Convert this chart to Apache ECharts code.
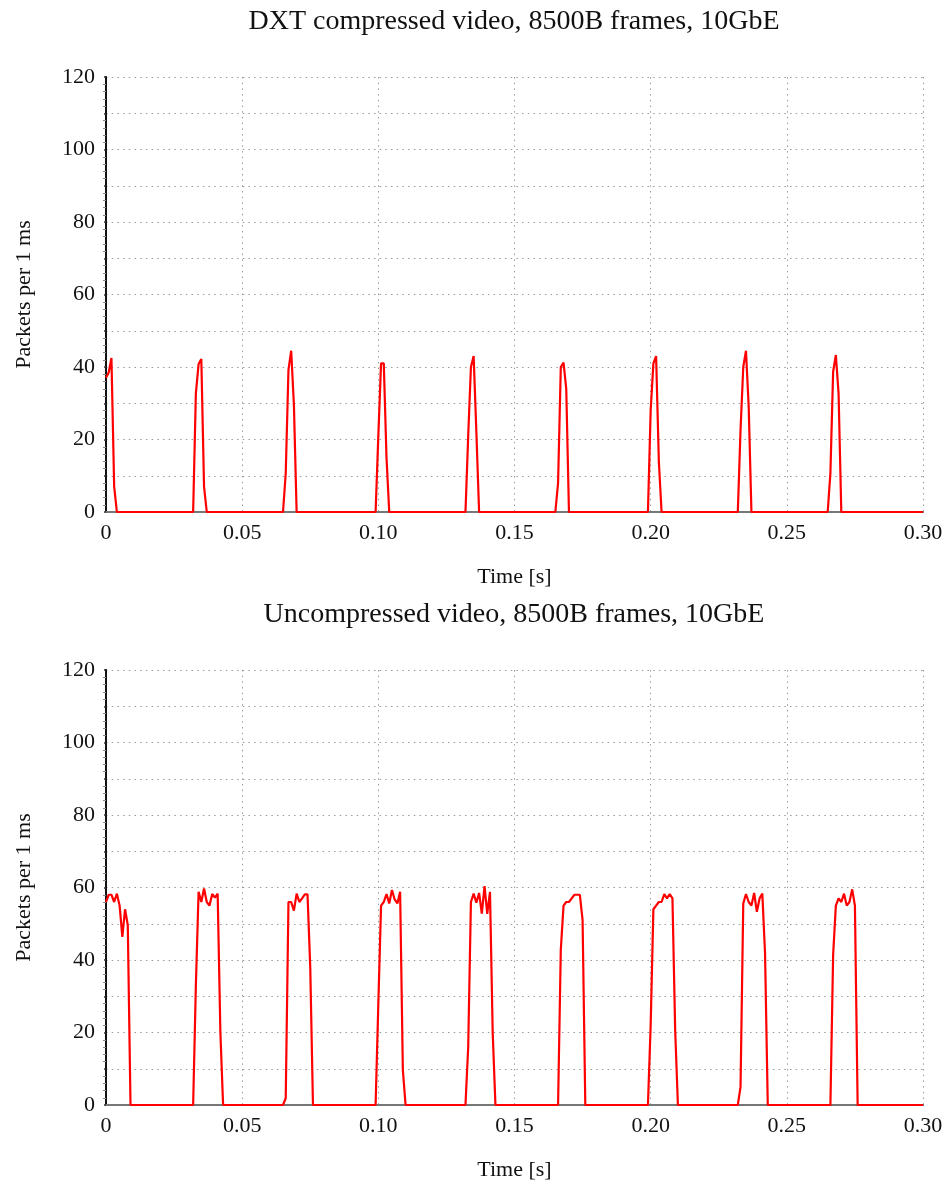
<!DOCTYPE html>
<html>
<head>
<meta charset="utf-8">
<script src="https://cdn.jsdelivr.net/npm/echarts@6/dist/echarts.min.js"></script>
<style>
  html, body { margin: 0; padding: 0; background: #fff; }
  #chart { width: 949px; height: 1184px; }
</style>
</head>
<body>
<div id="chart"></div>
<script>
// time axis: one sample per ms, 0 .. 300 ms
const sampleCount = 301;
const xTicks = [0, 0.05, 0.10, 0.15, 0.20, 0.25, 0.30];

// DXT compressed: pulse start (ms) and packets per ms in each pulse
const dxtPulseStart = [0, 33, 66, 100, 133, 166, 200, 233, 266];
const dxtPulseValues = [
  [37, 38.5, 42.5, 7],
  [32.7, 40.8, 42.2, 7],
  [10.7, 39.2, 44.5, 29.5],
  [21, 41, 41, 15],
  [21, 40, 43, 22],
  [8, 40, 41.2, 34],
  [28, 41, 43, 14],
  [22.6, 40, 44.5, 29],
  [10.7, 38.7, 43.3, 32.7]
];

// Uncompressed
const rawPulseStart = [0, 33, 66, 100, 133, 167, 200, 233, 267];
const rawPulseValues = [
  [56, 58, 58, 56, 58.3, 55, 46.4, 54, 49.6],
  [33, 58.8, 56, 59.7, 56, 55, 58.2, 57.2, 58.3, 20],
  [1.9, 56, 56, 53.6, 58.3, 56, 57, 58.1, 58.1, 38],
  [28, 55, 56, 58.2, 55.6, 59.3, 56.7, 55.6, 58.8, 9.7],
  [16, 56, 58.3, 55.8, 58.5, 52.8, 60.4, 52.7, 58.8, 19.8],
  [42.8, 55, 56, 56, 57, 58, 58, 58, 51],
  [22, 54, 55, 56, 56, 58.2, 57, 58.2, 57, 20.7],
  [5, 55.6, 58.2, 56, 55, 58.5, 53.3, 57, 58.3, 41.8],
  [41.4, 55, 57, 56, 58.3, 55, 56, 59.5, 55]
];

function buildSeries(starts, pulses) {
  const vals = new Array(sampleCount).fill(0);
  starts.forEach((s, i) => {
    pulses[i].forEach((v, j) => { vals[s + j] = v; });
  });
  return vals.map((v, i) => [i / 1000, v]);
}

const dxtData = buildSeries(dxtPulseStart, dxtPulseValues);
const rawData = buildSeries(rawPulseStart, rawPulseValues);

const FONT = 'Liberation Serif';
const grids = [
  { left: 106, right: 26, top: 77, height: 435 },
  { left: 106, right: 26, top: 670, height: 435 }
];

const dotted = { color: '#9a9a9a', width: 1, type: [1.5, 4.2] };

const xAxes = [];
const yAxes = [];
grids.forEach((g, i) => {
  xAxes.push({
    type: 'value', gridIndex: i, min: 0, max: 0.3, interval: 0.05,
    name: 'Time [s]', nameLocation: 'middle', nameGap: 54,
    nameTextStyle: { fontFamily: FONT, fontSize: 22, color: '#111' },
    axisLine: { onZero: false, lineStyle: { color: '#333', width: 1.5 } },
    axisTick: { show: false },
    axisLabel: {
      fontFamily: FONT, fontSize: 22, color: '#111', margin: 10,
      formatter: v => (v === 0 ? '0' : v.toFixed(2))
    },
    splitLine: { show: true, lineStyle: dotted }
  });
  xAxes.push({
    type: 'value', gridIndex: i, min: 0, max: 0.3, position: 'top',
    axisLine: { show: true, lineStyle: { color: '#777', width: 2 } },
    axisTick: { show: false }, axisLabel: { show: false }, splitLine: { show: false }
  });
  yAxes.push({
    type: 'value', gridIndex: i, min: 0, max: 120, interval: 10,
    name: 'Packets per 1 ms', nameLocation: 'middle', nameGap: 71,
    nameTextStyle: { fontFamily: FONT, fontSize: 22, color: '#111' },
    axisLine: { show: true, lineStyle: { color: '#666', width: 2 } },
    axisTick: { show: true, length: 2, lineStyle: { color: '#333', width: 1.5 } },
    minorTick: { show: true, splitNumber: 5, length: 3, lineStyle: { color: '#888' } },
    axisLabel: {
      fontFamily: FONT, fontSize: 22, color: '#111', margin: 11,
      formatter: v => (v % 20 === 0 ? String(v) : '')
    },
    splitLine: { show: true, lineStyle: dotted }
  });
  yAxes.push({
    type: 'value', gridIndex: i, min: 0, max: 120, position: 'right',
    axisLine: { show: true, lineStyle: { color: '#111', width: 2 } },
    axisTick: { show: false }, axisLabel: { show: false }, splitLine: { show: false }
  });
});

const option = {
  animation: false,
  backgroundColor: '#fff',
  title: [
    {
      text: 'DXT compressed video, 8500B frames, 10GbE',
      left: 509, top: 3, textAlign: 'center',
      textStyle: { fontFamily: FONT, fontSize: 28, fontWeight: 'normal', color: '#111' }
    },
    {
      text: 'Uncompressed video, 8500B frames, 10GbE',
      left: 509, top: 596, textAlign: 'center',
      textStyle: { fontFamily: FONT, fontSize: 28, fontWeight: 'normal', color: '#111' }
    }
  ],
  grid: grids,
  xAxis: xAxes,
  yAxis: yAxes,
  series: [
    {
      type: 'line', xAxisIndex: 0, yAxisIndex: 0, data: dxtData,
      showSymbol: false, lineStyle: { color: '#ff0000', width: 2.2 }
    },
    {
      type: 'line', xAxisIndex: 2, yAxisIndex: 2, data: rawData,
      showSymbol: false, lineStyle: { color: '#ff0000', width: 2.2 }
    }
  ]
};

const myChart = echarts.init(document.getElementById('chart'));
myChart.setOption(option);
</script>
</body>
</html>
